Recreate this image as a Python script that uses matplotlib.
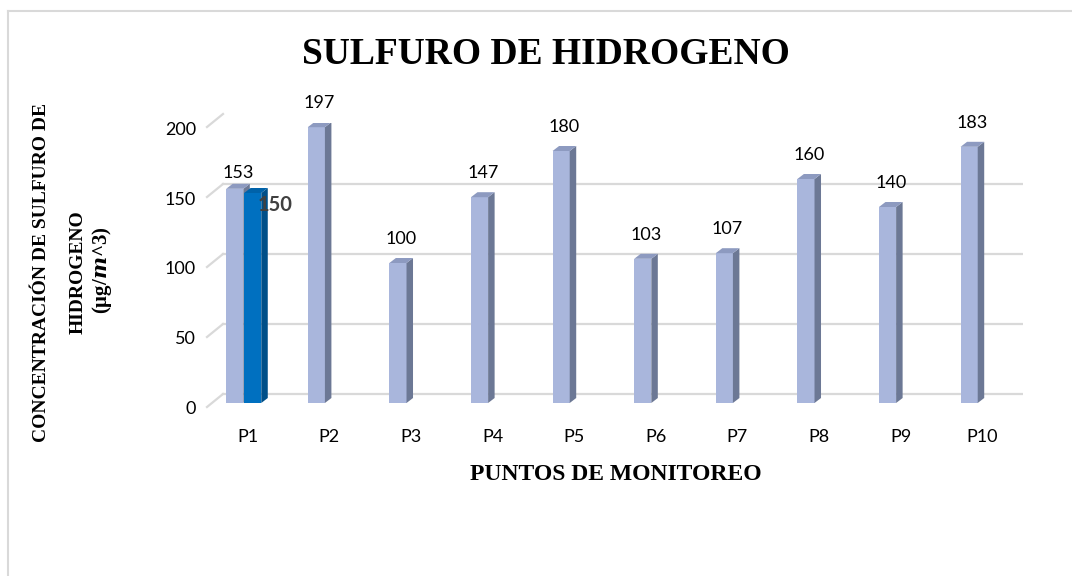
import matplotlib
matplotlib.use("Agg")
import matplotlib.pyplot as plt
from matplotlib.patches import Polygon
from matplotlib.transforms import ScaledTranslation
from matplotlib.lines import Line2D
from matplotlib.mathtext import MathTextParser

# ---- data ----
categories = ["P1", "P2", "P3", "P4", "P5", "P6", "P7", "P8", "P9", "P10"]
series1 = [153, 197, 100, 147, 180, 103, 107, 160, 140, 183]
series2_cat = ["P1"]
series2 = [150]
yticks = [0, 50, 100, 150, 200]
title = "SULFURO DE HIDROGENO"
xlabel = "PUNTOS DE MONITOREO"
ylabel1 = "CONCENTRACIÓN DE SULFURO DE"
ylabel2 = "HIDROGENO"

W, H, DPI = 1072, 576, 100
fig = plt.figure(figsize=(W / DPI, H / DPI), dpi=DPI)
fig.patch.set_facecolor("white")

# axes placement in pixels (front plane)
ax_l, ax_r, ax_b, ax_t = 207, 1023, 403, 123
ax = fig.add_axes([ax_l / W, (H - ax_b) / H, (ax_r - ax_l) / W, (ax_b - ax_t) / H])
ax.set_xlim(-0.5, len(categories) - 0.5)
ax.set_ylim(0, 200)
ax.patch.set_alpha(0)
for s in ax.spines.values():
    s.set_visible(False)

px_x = (ax_r - ax_l) / len(categories)   # pixels per category
px_y = (ax_b - ax_t) / 200.0             # pixels per unit

def pt(px):
    return px / DPI

# gridlines with 3D floor/wall look
grid_col = "#D9D9D9"
back = ax.transData + ScaledTranslation(pt(16), pt(9), fig.dpi_scale_trans)
front = ax.transData + ScaledTranslation(0, pt(-4), fig.dpi_scale_trans)
x0, x1 = ax.get_xlim()
for v in yticks:
    ax.add_line(Line2D([x0, x1], [v, v], transform=back, color=grid_col, lw=1.6, zorder=0))
    p_front = front.transform((x0, v))
    p_back = back.transform((x0, v))
    fig.add_artist(Line2D([p_front[0] / W, p_back[0] / W], [p_front[1] / H, p_back[1] / H],
                          transform=fig.transFigure, color=grid_col, lw=1.6, zorder=0))

# bars
w = 0.21
off1, off2 = -0.16, 0.06
ddx = 6.5 / px_x
ddy = 5.0 / px_y

def bar3d(xc, val, front_c, side_c, top_c, z):
    xl, xr = xc - w / 2, xc + w / 2
    ax.bar(xc, val, width=w, color=front_c, zorder=z, linewidth=0)
    ax.add_patch(Polygon([(xr, 0), (xr, val), (xr + ddx, val + ddy), (xr + ddx, ddy)],
                         closed=True, facecolor=side_c, edgecolor="none", zorder=z))
    ax.add_patch(Polygon([(xl, val), (xr, val), (xr + ddx, val + ddy), (xl + ddx, val + ddy)],
                         closed=True, facecolor=top_c, edgecolor="none", zorder=z))

lbl_font = "Lato"
for i, v in enumerate(series1):
    xc = i + off1
    bar3d(xc, v, "#A9B6DC", "#6C7895", "#8D9AC0", 2)
    dy = 16 if i == 0 else 24
    ax.annotate(str(v), (xc + ddx / 2, v), xytext=(0, pt(dy) * 72), textcoords="offset points",
                ha="center", va="center", fontsize=13, family=lbl_font, color="black", zorder=5)

for c, v in zip(series2_cat, series2):
    i = categories.index(c)
    xc = i + off2
    bar3d(xc, v, "#0070C0", "#004F88", "#0062A9", 3)
    ax.annotate(str(v), (xc, v), xytext=(pt(22) * 72, pt(-12) * 72), textcoords="offset points",
                ha="center", va="center", fontsize=14.5, fontweight="bold", family=lbl_font,
                color="#404040", zorder=6)

# ticks
ax.set_xticks(range(len(categories)))
ax.set_xticklabels(categories, family=lbl_font, fontsize=13)
ax.set_yticks(yticks)
ax.set_yticklabels([str(v) for v in yticks], family=lbl_font, fontsize=13)
ax.tick_params(axis="both", length=0)
ax.tick_params(axis="x", pad=19)
ax.tick_params(axis="y", pad=8)
for lbl in ax.get_yticklabels():
    lbl.set_transform(lbl.get_transform() + ScaledTranslation(0, pt(-5), fig.dpi_scale_trans))

# titles
serif = "Liberation Serif"
fig.text(546 / W, 1 - 55 / H, title, ha="center", va="center", family=serif,
         fontweight="bold", fontsize=27)
fig.text(616 / W, 1 - 475 / H, xlabel, ha="center", va="center", family=serif,
         fontweight="bold", fontsize=17)
fig.text(42 / W, 1 - 272 / H, ylabel1, ha="center", va="center", rotation=90,
         family=serif, fontweight="bold", fontsize=14)
fig.text(78 / W, 1 - 272 / H, ylabel2, ha="center", va="center", rotation=90,
         family=serif, fontweight="bold", fontsize=14)

plt.rcParams["mathtext.fontset"] = "custom"
plt.rcParams["mathtext.bf"] = "Liberation Serif:bold"
plt.rcParams["mathtext.rm"] = "Liberation Serif"
plt.rcParams["mathtext.it"] = "DejaVu Serif:italic:bold"
unit = r"$\mathbf{(\mu g/}\mathit{m}\mathbf{\textasciicircum 3)}$"
try:
    MathTextParser("path").parse(unit)
except Exception:
    unit = "(μg/m^3)"
fig.text(102 / W, 1 - 270 / H, unit, ha="center", va="center", rotation=90,
         family=serif, fontweight="bold", fontsize=15)

# chart border (left and top)
bc = "#D9D9D9"
fig.add_artist(Line2D([8 / W, 8 / W], [0, 1 - 11 / H], transform=fig.transFigure, color=bc, lw=1.5))
fig.add_artist(Line2D([8 / W, 1], [1 - 11 / H, 1 - 11 / H], transform=fig.transFigure, color=bc, lw=1.5))

fig.savefig("out.png", dpi=DPI)
